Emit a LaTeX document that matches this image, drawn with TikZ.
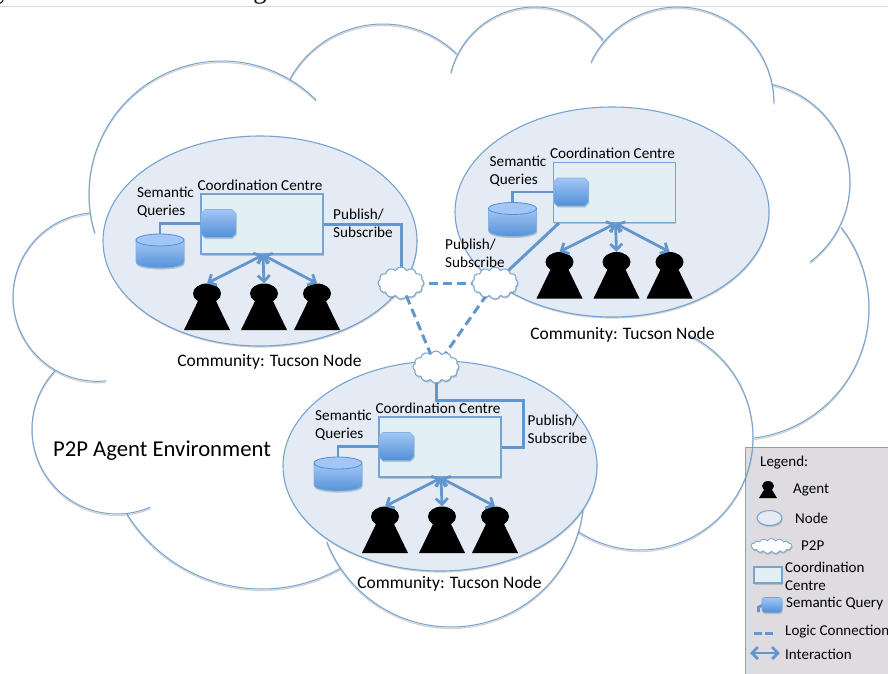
\documentclass[tikz,border=0pt]{standalone}
\usepackage{fontspec}
\setmainfont{Carlito}
\newfontfamily\capfont{Liberation Serif}
\usetikzlibrary{shapes.geometric,shapes.symbols,arrows.meta,shadows}
\definecolor{lineblue}{HTML}{76A3D1}
\definecolor{connblue}{HTML}{6396CC}
\definecolor{nodefill}{HTML}{E4EBF5}
\definecolor{boxfill}{HTML}{E2EFF5}
\definecolor{qtop}{HTML}{A3C6F6}
\definecolor{qbot}{HTML}{4F8FD6}
\definecolor{legendfill}{HTML}{DEDCE1}
\tikzset{
  softshadow/.style={drop shadow={shadow xshift=0.6pt,shadow yshift=-1.6pt,opacity=.3,fill=black!60}},
  community/.style={ellipse,draw=lineblue,line width=1.1pt,fill=nodefill,inner sep=0pt,minimum width=314pt,minimum height=210pt,softshadow},
  centrebox/.style={rectangle,draw=lineblue,line width=1.2pt,fill=boxfill,inner sep=0pt,softshadow},
  queryslot/.style={rectangle,inner sep=0pt,minimum width=35pt,minimum height=28pt},
  queryshape/.style={top color=qtop,bottom color=qbot,draw=qbot!70,line width=.6pt,softshadow},
  cyltop/.style={ellipse,draw=qbot,line width=.8pt,fill=qtop,inner sep=0pt,minimum width=48pt,minimum height=12pt},
  agenthead/.style={ellipse,fill=black,inner sep=0pt,minimum width=28pt,minimum height=20pt},
  peer/.style={cloud,cloud puffs=12,cloud puff arc=130,aspect=1.4,draw=lineblue,line width=1pt,fill=white,inner sep=0pt,minimum width=46pt,minimum height=32pt,softshadow},
  interact/.style={draw=connblue,line width=2.8pt,{Straight Barb[length=6pt,width=12pt]}-{Straight Barb[length=6pt,width=12pt]}},
  link/.style={draw=connblue,line width=3pt,line join=miter},
  logic/.style={draw=connblue,line width=3pt,dash pattern=on 9pt off 5pt},
  lab/.style={inner sep=0pt,align=left,anchor=west,font=\fontsize{15.2}{18}\selectfont},
  ctr/.style={inner sep=0pt,align=center,font=\fontsize{15.2}{18}\selectfont},
  commlab/.style={inner sep=0pt,font=\fontsize{17.5}{19}\selectfont},
  leg/.style={inner sep=0pt,align=left,anchor=west,font=\fontsize{15}{18}\selectfont},
}
\newcommand{\drawcommunity}[5]{%
  \node[community] (e#1) at (#4,#5) {};
  \node[centrebox,minimum width=122pt,minimum height=60pt] (b#1) at (#2+61,#3+30) {};
  \coordinate (hub#1) at (#2+62,#3+61);
  \shade[top color=qtop,bottom color=qbot,draw=qbot!70,line width=.6pt,softshadow]
    (#2-65,#3+46) -- (#2-17,#3+46) -- (#2-17,#3+68) .. controls (#2-17,#3+76) and (#2-65,#3+76) .. (#2-65,#3+68) -- cycle;
  \node[cyltop] (c#1) at (#2-41,#3+46) {};
  \node[queryslot] (q#1) at (#2+17.5,#3+29.5) {};
  \draw[link,line width=2.6pt] (q#1.west) -| (c#1.north);
  \shade[queryshape] (#2+4,#3+15.5) -- (#2+31,#3+15.5) -- (#2+35,#3+19.5) -- (#2+35,#3+39.5) -- (#2+31,#3+43.5) -- (#2+4,#3+43.5) -- (#2,#3+39.5) -- (#2,#3+19.5) -- cycle;
  \node[ctr,anchor=center] (t#1) at (#2+59,#3-9) {Coordination Centre};
  \node[lab] (s#1) at (#2-64,#3+8.5) {Semantic\\Queries};
  \foreach \n/\dx in {1/6,2/63,3/116}{
    \fill (#2+\dx-23,#3+136) -- (#2+\dx+23,#3+136) -- (#2+\dx+7,#3+103) -- (#2+\dx-7,#3+103) -- cycle;
    \node[agenthead] (a#1\n) at (#2+\dx,#3+99.5) {};
    \draw[interact] (hub#1) -- (a#1\n.north);
  }
}
\begin{document}
\begin{tikzpicture}[x=1pt,y=-1pt]
\useasboundingbox (0,0) rectangle (888,673);
\fill[white] (0,0) rectangle (888,673);
% cropped line of page text and rule
\begin{scope}
  \clip (0,0) rectangle (888,6);
  \node[inner sep=0pt,anchor=base west,font=\capfont\fontsize{26.5}{28}\selectfont] (captxt) at (-3,-1.5) {ystem is illustrated in Figure};
\end{scope}
\draw[black!15,line width=1pt] (0,6.5) -- (888,6.5);
% legend panel
\node[rectangle,draw=lineblue,line width=1pt,fill=legendfill,inner sep=0pt,anchor=north west,minimum width=160pt,minimum height=240pt] (legend) at (745,447) {};
% outer environment cloud
\foreach \cx/\cy/\r/\a/\b in {
  222/194/133/163/315, 
  383/130/106/209/314,
  535/93.6/86.6/194/322,
  678/103/96/205/360,
  750/182/100/283/413,
  738/308/131/322/443,
  640/437/113/296/483,
  451/494/133/7/159,
  262/430/159/60.5/148,
  117/429/85/67/223,
  97.3/297/84.3/84/265}{
  \draw[black,opacity=.18,line width=1.2pt,yshift=-1.5pt] plot[domain=\a:\b,samples=70,smooth] ({\cx+\r*cos(\x)},{\cy+\r*sin(\x)});
  \draw[lineblue,line width=1pt] plot[domain=\a:\b,samples=70,smooth] ({\cx+\r*cos(\x)},{\cy+\r*sin(\x)});
}
\drawcommunity{A}{201}{194}{260}{241}
\drawcommunity{B}{553.5}{162.5}{612}{212}
\drawcommunity{C}{379}{417}{440}{466}
% labels of the communities
\node[commlab] (na) at (269.5,362) {Community: Tucson Node};
\node[commlab] (nb) at (622.5,335) {Community: Tucson Node};
\node[commlab] (nc) at (449.5,584) {Community: Tucson Node};
\node[inner sep=0pt,font=\fontsize{22.7}{26}\selectfont] (env) at (162,450.5) {P2P Agent Environment};
\node[lab] (pa) at (333,223) {Publish/\\Subscribe};
\node[lab] (pb) at (445,253.5) {Publish/\\Subscribe};
\node[lab] (pc) at (527.5,429) {Publish/\\Subscribe};
% P2P links
\coordinate (hp1) at (401,283);
\coordinate (hp2) at (495,283);
\coordinate (hp3) at (436,367);
\draw[logic] (hp1) -- (hp2);
\draw[logic] (hp1) -- (hp3);
\draw[logic] (hp2) -- (hp3);
\coordinate (turn) at (523,400);
\coordinate (bbleft) at ([xshift=6pt]bB.south west);
\draw[link] (bA.east) -| (hp1);
\draw[link] (bbleft) -- (hp2);
\draw[link] (hp3) |- (turn) |- (bC.east);
\node[peer] (p1) at (hp1) {};
\node[peer] (p2) at (hp2) {};
\node[peer] (p3) at (hp3) {};
% legend contents
\node[leg] (l0) at (760,463) {Legend:};
\fill (759,498) -- (777,498) -- (771.5,489) -- (764.5,489) -- cycle;
\node[ellipse,fill=black,inner sep=0pt,minimum width=12pt,minimum height=10pt] (l1i) at (768,486) {};
\node[leg] (l1) at (793,490) {Agent};
\node[ellipse,draw=lineblue,line width=1pt,fill=nodefill,inner sep=0pt,minimum width=25pt,minimum height=15pt,softshadow] (l2i) at (769.5,518) {};
\node[leg] (l2) at (795,518) {Node};
\node[cloud,cloud puffs=15,cloud puff arc=120,aspect=2.7,draw=lineblue,line width=.8pt,fill=white,inner sep=0pt,minimum width=41pt,minimum height=15pt,softshadow] (l3i) at (771.5,546) {};
\node[leg] (l3) at (801,546) {P2P};
\node[centrebox,minimum width=28pt,minimum height=16pt] (l4i) at (768,575) {};
\node[leg] (l4) at (785,576) {Coordination\\Centre};
\draw[link,line width=2.6pt] (758.5,612) -- (758.5,607) -- (763,605);
\node[rectangle,rounded corners=3pt,draw=qbot!80,line width=.6pt,top color=qtop,bottom color=qbot,inner sep=0pt,minimum width=20pt,minimum height=15pt,softshadow] (l5i) at (772,605) {};
\node[leg] (l5) at (786,604) {Semantic Query};
\coordinate (l6a) at (754,633);
\coordinate (l6b) at (773,633);
\draw[draw=connblue,line width=3pt,dash pattern=on 8pt off 3pt] (l6a) -- (l6b);
\node[leg] (l6) at (785,632) {Logic Connection};
\coordinate (l7a) at (750,653);
\coordinate (l7b) at (780,653);
\draw[interact] (l7a) -- (l7b);
\node[leg] (l7) at (785,654) {Interaction};
\end{tikzpicture}
\end{document}
